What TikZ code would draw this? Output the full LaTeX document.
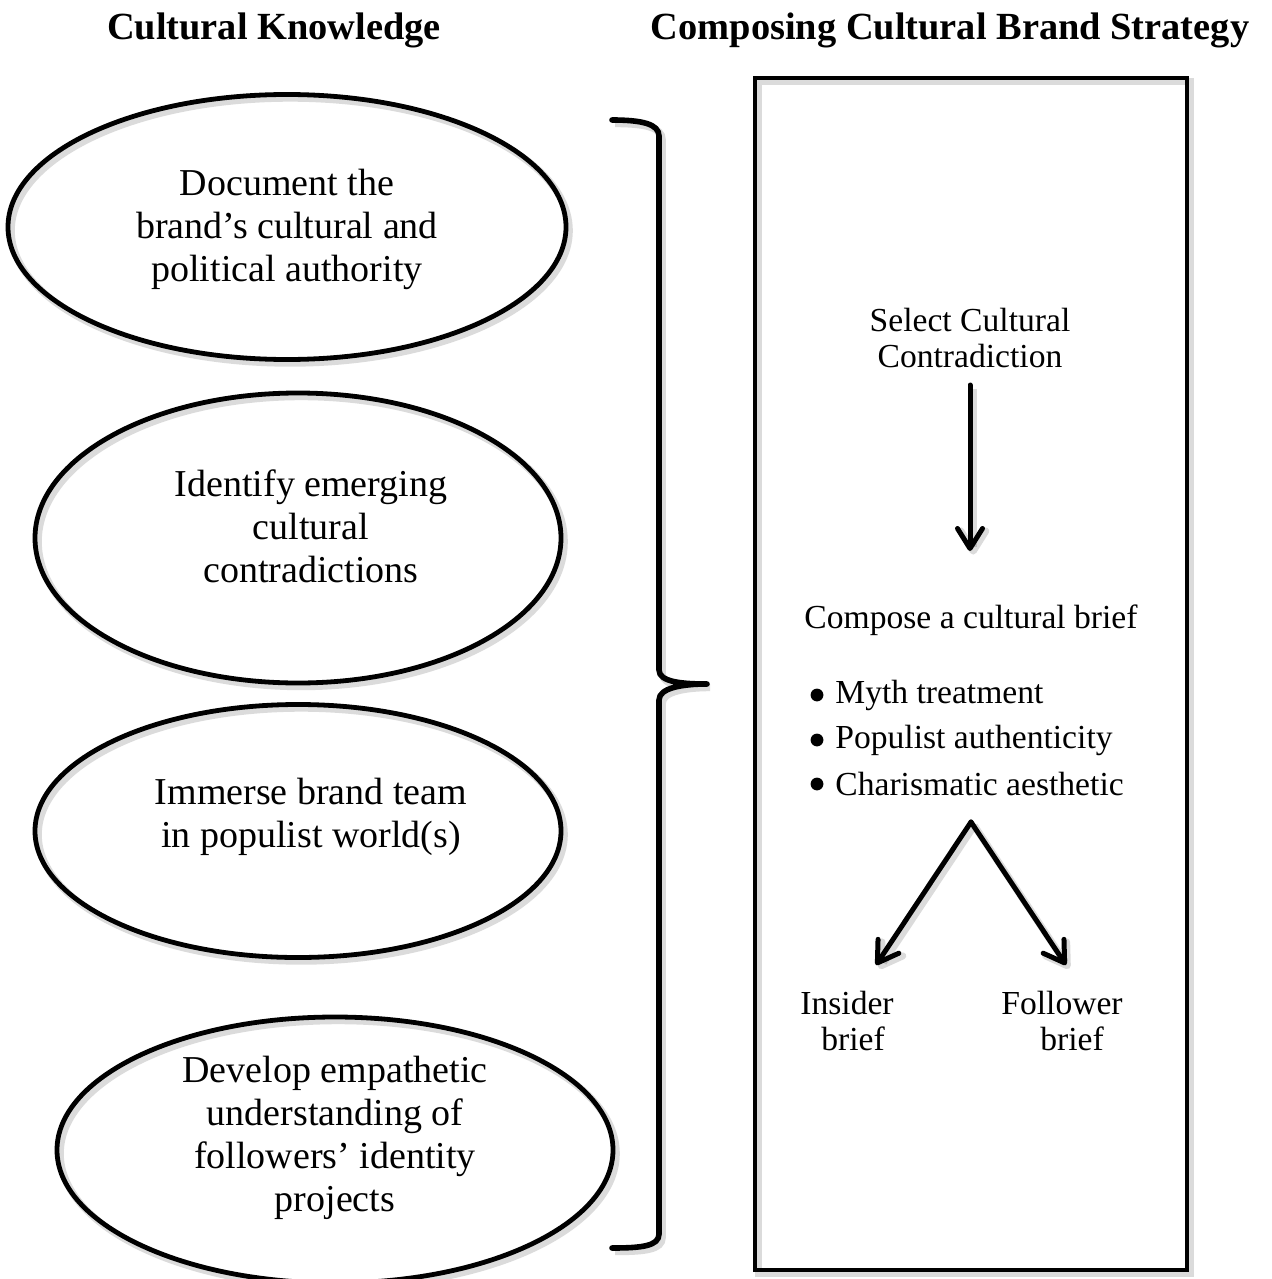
\documentclass[tikz,border=0pt]{standalone}
\usepackage{fontspec}
\setmainfont{Liberation Serif}
\usetikzlibrary{arrows.meta,shapes.geometric}
\begin{document}
\begin{tikzpicture}[x=0.5pt,y=-0.5pt,
  soft/.style={preaction={draw=black, draw opacity=0.14, line width=3.6pt,
      transform canvas={shift={(1.6pt,-1.8pt)}}}},
  bubble/.style={ellipse, draw, line width=2.4pt, inner sep=0pt, soft},
  bubbletext/.style={align=center, inner sep=0pt, font=\fontsize{19}{21.5}\selectfont},
  heading/.style={inner sep=0pt, font=\bfseries\fontsize{19.2}{23}\selectfont},
  boxtext/.style={align=center, inner sep=0pt, font=\fontsize{16.8}{18}\selectfont},
  item/.style={anchor=west, inner sep=0pt, font=\fontsize{16.8}{18}\selectfont},
  dot/.style={circle, fill, inner sep=0pt, minimum size=6.4pt},
  arrowline/.style={line width=2.5pt, line cap=round, soft,
      -{Straight Barb[length=10pt,width=12.5pt,line cap=round,line join=round]}},
  bracket/.style={line width=2.8pt, line cap=round, line join=round, soft}
]
\useasboundingbox (0,0) rectangle (1272,1279);

% column headings
\node[heading] (h1) at (274,30) {Cultural Knowledge};
\node[heading] (h2) at (950,30) {Composing Cultural Brand Strategy};

% cultural knowledge ellipses
\node[bubble, minimum width=279pt, minimum height=132.5pt] (e1) at (287,227) {};
\node[bubble, minimum width=263pt, minimum height=145pt] (e2) at (298,538) {};
\node[bubble, minimum width=263pt, minimum height=126.5pt] (e3) at (298,831) {};
\node[bubble, minimum width=278pt, minimum height=133pt] (e4) at (335,1150) {};

\node[bubbletext] (t1) at (287,229) {Document the\\brand’s cultural and\\political authority};
\node[bubbletext] (t2) at (311,526) {Identify emerging\\cultural\\contradictions};
\node[bubbletext] (t3) at (311,817) {Immerse brand team\\in populist world(s)};
\node[bubbletext] (t4) at (335,1138) {Develop empathetic\\understanding of\\followers’ identity\\projects};

% curly bracket joining the four activities
\draw[bracket] (612,120) .. controls (642,120) and (659,124) .. (659,136)
  -- (659,670) .. controls (659,682) and (682,684) .. (707,684)
  .. controls (682,684) and (659,688) .. (659,700)
  -- (659,1234) .. controls (659,1246) and (642,1248) .. (612,1248);

% strategy frame
\node[draw, line width=2.4pt, minimum width=216pt, minimum height=596pt, inner sep=0pt, soft]
  (frame) at (971,674) {};

\node[boxtext] (select) at (970,338) {Select Cultural\\Contradiction};
\node[boxtext] (compose) at (971,620) {Compose a cultural brief};

\node[dot] (b1) at (817,695) {};
\node[dot] (b2) at (817,740) {};
\node[dot] (b3) at (817,784) {};
\node[item] (i1) at (835,695) {Myth treatment};
\node[item] (i2) at (835,740) {Populist authenticity};
\node[item] (i3) at (835,784) {Charismatic aesthetic};

\node[boxtext] (insider) at (847,1021) {Insider\\\hspace*{6pt}brief};
\node[boxtext] (follower) at (1062,1021) {Follower\\\hspace*{10pt}brief};

% connectors
\coordinate (selectout) at (970,385);
\coordinate (composein) at (970,551);
\coordinate (split) at (971,822);
\coordinate (insiderin) at (876,965);
\coordinate (followerin) at (1066,965);

\draw[arrowline] (selectout) -- (composein);
\draw[arrowline] (split) -- (insiderin);
\draw[arrowline] (split) -- (followerin);
\end{tikzpicture}
\end{document}
